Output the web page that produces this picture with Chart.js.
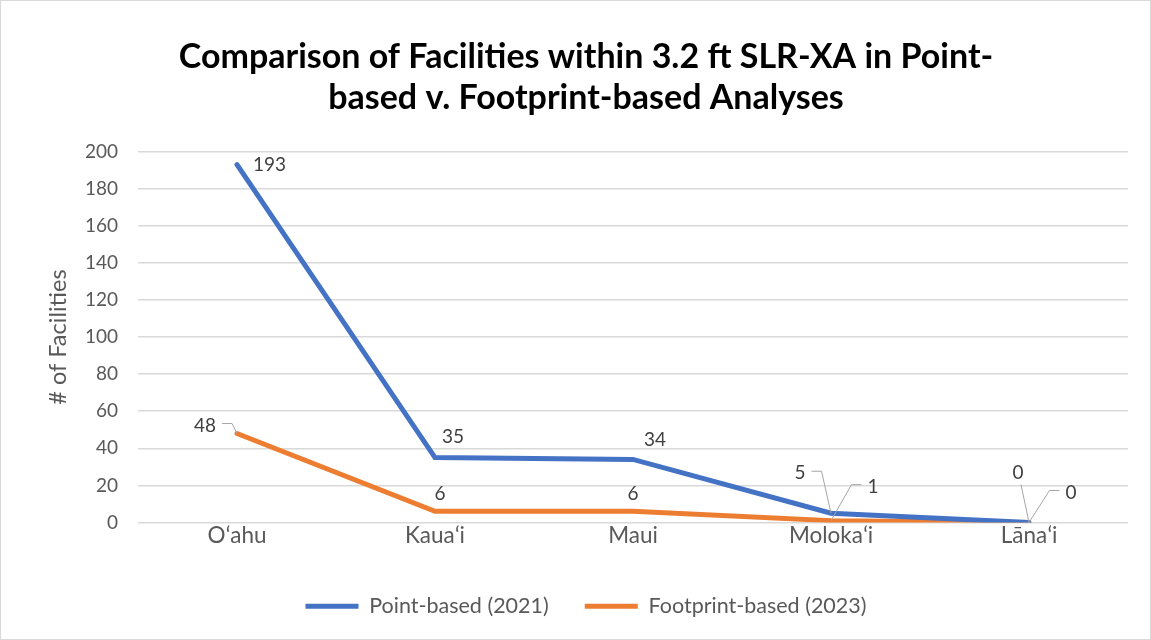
<!DOCTYPE html>
<html>
<head>
<meta charset="utf-8">
<script src="https://cdn.jsdelivr.net/npm/chart.js@4/dist/chart.umd.min.js"></script>
<style>
  html, body { margin: 0; padding: 0; background: #fff; }
  #wrap { width: 1151px; height: 640px; position: relative; }
</style>
</head>
<body>
<div id="wrap"><canvas id="chart"></canvas></div>
<script>
// Données
const islands = ['Oʻahu', 'Kauaʻi', 'Maui', 'Molokaʻi', 'Lānaʻi'];
const pointBased = [193, 35, 34, 5, 0];
const footprintBased = [48, 6, 6, 1, 0];
const yTickValues = [0, 20, 40, 60, 80, 100, 120, 140, 160, 180, 200];

const FONT = 'Lato, "Open Sans", sans-serif';
const TEXT_GREY = '#595959';

// Placement des étiquettes (décalage par rapport au point)
const labelPlacement = [
  [
    { dx: 16, dy: 0, align: 'left' },
    { dx: 18, dy: -21 },
    { dx: 22, dy: -20 },
    { dx: -31, dy: -40, leader: 'left' },
    { dx: -11, dy: -50, leader: 'down' }
  ],
  [
    { dx: -32, dy: -8, leader: 'left' },
    { dx: 5, dy: -17 },
    { dx: 0, dy: -17 },
    { dx: 42, dy: -34, leader: 'right' },
    { dx: 42, dy: -30, leader: 'right' }
  ]
];

// Fond blanc + cadre gris autour du graphique
const frame = {
  id: 'frame',
  beforeDraw(chart) {
    const ctx = chart.ctx;
    ctx.save();
    ctx.fillStyle = '#fff';
    ctx.fillRect(0, 0, chart.width, chart.height);
    ctx.strokeStyle = '#d9d9d9';
    ctx.lineWidth = 1;
    ctx.strokeRect(0.5, 0.5, chart.width - 1, chart.height - 1);
    ctx.restore();
  }
};

// Étiquettes de valeurs avec traits de rappel
const valueLabels = {
  id: 'valueLabels',
  afterDatasetsDraw(chart) {
    const ctx = chart.ctx;
    ctx.save();
    ctx.font = '19px ' + FONT;
    ctx.fillStyle = '#404040';
    ctx.textBaseline = 'middle';
    chart.data.datasets.forEach((ds, di) => {
      const meta = chart.getDatasetMeta(di);
      meta.data.forEach((pt, i) => {
        const p = labelPlacement[di][i];
        const text = String(ds.data[i]);
        const lx = pt.x + p.dx;
        const ly = pt.y + p.dy;
        ctx.textAlign = p.align || 'center';
        ctx.fillText(text, lx, ly);
        if (!p.leader) return;
        const w = ctx.measureText(text).width;
        ctx.strokeStyle = '#a6a6a6';
        ctx.lineWidth = 1;
        ctx.beginPath();
        if (p.leader === 'left') {
          const sx = lx + w / 2 + 6;
          ctx.moveTo(sx, ly - 2);
          ctx.lineTo(sx + 10, ly - 2);
        } else if (p.leader === 'right') {
          const sx = lx - w / 2 - 6;
          ctx.moveTo(sx, ly - 2);
          ctx.lineTo(sx - 10, ly - 2);
        } else {
          ctx.moveTo(lx + 3, ly + 12);
        }
        ctx.lineTo(pt.x, pt.y);
        ctx.stroke();
      });
    });
    ctx.restore();
  }
};

new Chart(document.getElementById('chart'), {
  type: 'line',
  data: {
    labels: islands,
    datasets: [
      {
        label: 'Point-based (2021)',
        data: pointBased,
        borderColor: '#4472C4',
        backgroundColor: '#4472C4',
        borderWidth: 5,
        borderCapStyle: 'round',
        pointRadius: 0,
        tension: 0
      },
      {
        label: 'Footprint-based (2023)',
        data: footprintBased,
        borderColor: '#ED7D31',
        backgroundColor: '#ED7D31',
        borderWidth: 5,
        borderCapStyle: 'round',
        pointRadius: 0,
        tension: 0
      }
    ]
  },
  options: {
    responsive: true,
    maintainAspectRatio: false,
    animation: false,
    layout: { padding: { left: 44, right: 23, top: 0, bottom: 13 } },
    plugins: {
      title: {
        display: true,
        text: ['Comparison of Facilities within 3.2 ft SLR-XA in Point-', 'based v. Footprint-based Analyses'],
        color: '#000',
        font: { family: FONT, size: 34, weight: 'bold', lineHeight: 1.2 },
        padding: { top: 37, bottom: 33 }
      },
      legend: {
        position: 'bottom',
        labels: {
          usePointStyle: true,
          pointStyle: 'line',
          pointStyleWidth: 53,
          padding: 36,
          color: TEXT_GREY,
          font: { family: FONT, size: 21.5 }
        }
      },
      tooltip: { enabled: false }
    },
    scales: {
      x: {
        offset: true,
        grid: { display: false, drawTicks: false },
        border: { display: false },
        ticks: { color: TEXT_GREY, font: { family: FONT, size: 22.5 }, padding: 0 },
        afterFit(scale) { scale.height = 37; }
      },
      y: {
        min: yTickValues[0],
        max: yTickValues[yTickValues.length - 1],
        afterBuildTicks(scale) { scale.ticks = yTickValues.map(v => ({ value: v })); },
        grid: { color: '#d9d9d9', lineWidth: 1.5, drawTicks: false },
        border: { display: false },
        ticks: { color: TEXT_GREY, font: { family: FONT, size: 19 }, padding: 20 },
        title: {
          display: true,
          text: '# of Facilities',
          color: TEXT_GREY,
          font: { family: FONT, size: 23.5 },
          padding: 0
        },
        afterFit(scale) { scale.width = 94; }
      }
    }
  },
  plugins: [frame, valueLabels]
});
</script>
</body>
</html>
